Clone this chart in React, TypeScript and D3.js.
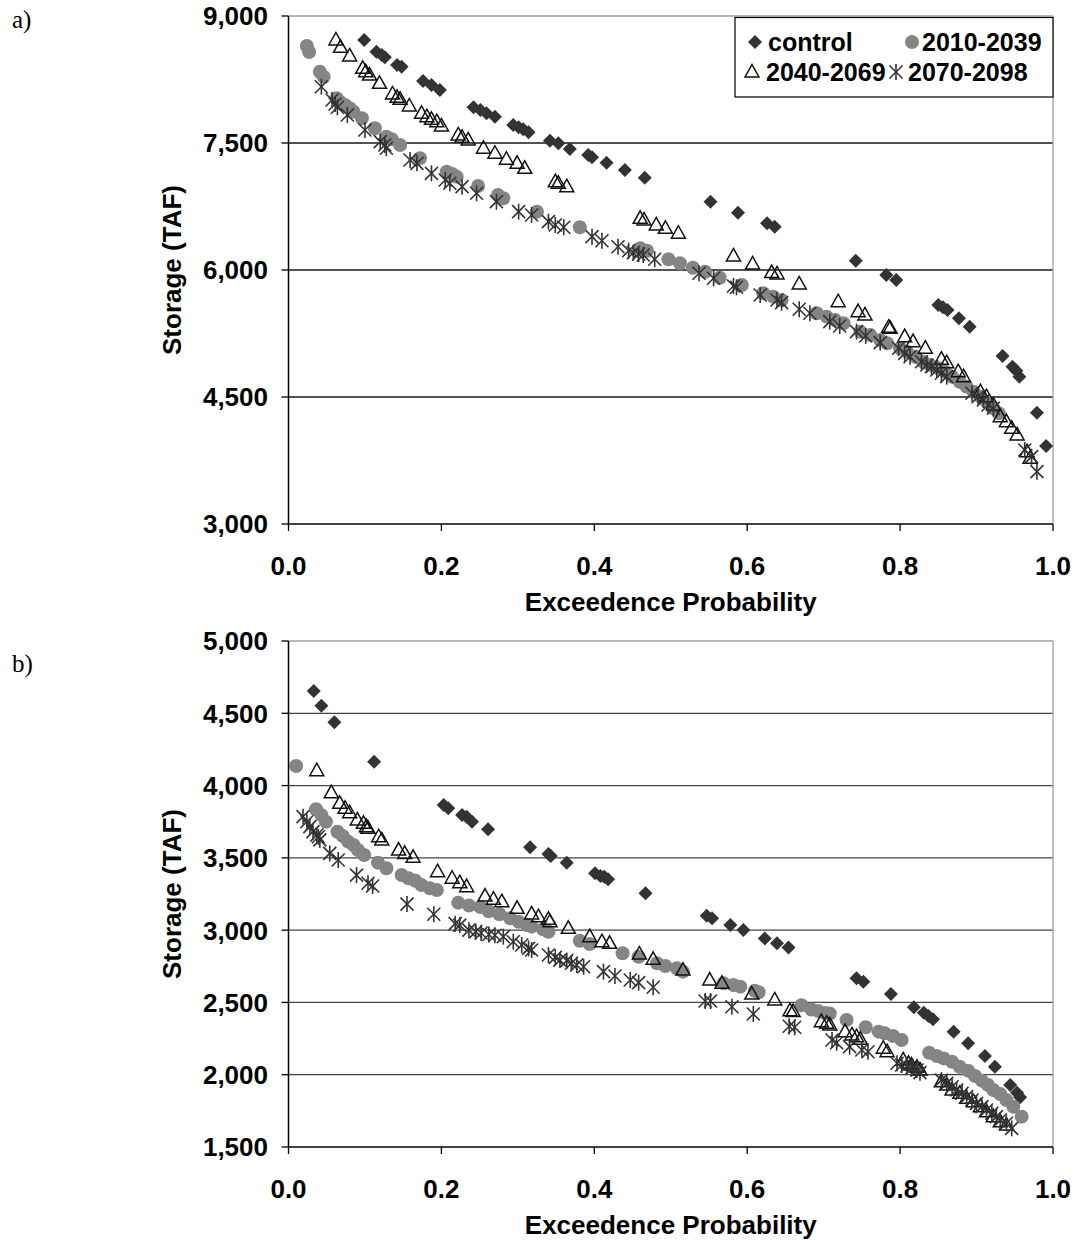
import React from 'react';
import * as d3 from 'd3';

type Pt = [number, number];

const seriesNames = ['control', '2010-2039', '2040-2069', '2070-2098'];
const xTicks = [0, 0.2, 0.4, 0.6, 0.8, 1.0];
const aYTicks = [3000, 4500, 6000, 7500, 9000];
const bYTicks = [1500, 2000, 2500, 3000, 3500, 4000, 4500, 5000];

const aControl: Pt[] = [[0.099,8717],[0.115,8578],[0.122,8539],[0.126,8512],[0.142,8421],[0.148,8401],[0.176,8232],[0.187,8185],[0.198,8126],[0.242,7922],[0.251,7890],[0.259,7851],[0.270,7811],[0.294,7713],[0.301,7686],[0.307,7662],[0.314,7627],[0.342,7527],[0.353,7497],[0.368,7429],[0.392,7358],[0.397,7331],[0.416,7267],[0.440,7181],[0.466,7090],[0.552,6807],[0.588,6677],[0.626,6552],[0.636,6512],[0.742,6110],[0.782,5941],[0.795,5882],[0.850,5587],[0.856,5560],[0.862,5528],[0.877,5430],[0.891,5331],[0.934,4985],[0.947,4858],[0.952,4811],[0.956,4740],[0.979,4315],[0.991,3922]];

const a2010: Pt[] = [[0.024,8646],[0.027,8575],[0.041,8342],[0.046,8283],[0.063,8028],[0.067,7988],[0.074,7949],[0.080,7910],[0.085,7870],[0.096,7792],[0.113,7674],[0.128,7575],[0.135,7544],[0.146,7477],[0.172,7319],[0.207,7161],[0.214,7134],[0.220,7102],[0.248,6992],[0.274,6886],[0.281,6847],[0.325,6689],[0.381,6505],[0.460,6257],[0.469,6228],[0.497,6127],[0.512,6079],[0.529,6027],[0.545,5980],[0.564,5909],[0.593,5823],[0.621,5725],[0.634,5685],[0.645,5646],[0.691,5489],[0.704,5449],[0.715,5410],[0.726,5371],[0.748,5272],[0.761,5233],[0.774,5174],[0.783,5135],[0.800,5076],[0.809,5035],[0.820,4976],[0.830,4917],[0.839,4879],[0.850,4839],[0.859,4799],[0.868,4740],[0.878,4681],[0.887,4622],[0.896,4563],[0.905,4504],[0.913,4445],[0.922,4367],[0.929,4308]];

const a2040: Pt[] = [[0.062,8717],[0.068,8630],[0.080,8528],[0.097,8382],[0.101,8342],[0.106,8303],[0.119,8205],[0.136,8079],[0.142,8040],[0.146,8016],[0.158,7937],[0.174,7851],[0.181,7811],[0.187,7780],[0.194,7752],[0.200,7701],[0.222,7595],[0.227,7567],[0.235,7536],[0.255,7438],[0.270,7379],[0.285,7308],[0.299,7260],[0.309,7201],[0.349,7043],[0.353,7024],[0.364,6984],[0.460,6611],[0.465,6591],[0.481,6532],[0.493,6493],[0.510,6434],[0.582,6166],[0.607,6071],[0.632,5969],[0.639,5953],[0.668,5835],[0.719,5626],[0.745,5508],[0.754,5469],[0.785,5324],[0.787,5312],[0.806,5213],[0.817,5154],[0.833,5076],[0.854,4946],[0.861,4906],[0.876,4799],[0.883,4740],[0.905,4563],[0.913,4504],[0.922,4406],[0.931,4268],[0.939,4209],[0.946,4131],[0.953,4052],[0.966,3854],[0.970,3776]];

const a2070: Pt[] = [[0.043,8165],[0.057,8008],[0.061,7961],[0.064,7922],[0.077,7831],[0.100,7654],[0.120,7516],[0.126,7477],[0.128,7438],[0.159,7299],[0.168,7260],[0.187,7142],[0.205,7063],[0.211,7024],[0.227,6984],[0.246,6906],[0.272,6807],[0.301,6689],[0.318,6650],[0.340,6571],[0.349,6532],[0.360,6505],[0.397,6394],[0.410,6346],[0.431,6275],[0.445,6228],[0.451,6205],[0.458,6189],[0.464,6177],[0.479,6127],[0.537,5961],[0.556,5902],[0.582,5811],[0.586,5796],[0.617,5705],[0.639,5646],[0.645,5614],[0.668,5536],[0.682,5489],[0.708,5390],[0.721,5339],[0.743,5272],[0.755,5221],[0.774,5142],[0.798,5076],[0.806,5016],[0.813,4976],[0.828,4917],[0.835,4878],[0.841,4858],[0.848,4819],[0.854,4780],[0.861,4740],[0.894,4544],[0.902,4504],[0.909,4465],[0.915,4406],[0.922,4367],[0.963,3874],[0.972,3795],[0.979,3618]];

const bControl: Pt[] = [[0.033,4654],[0.043,4552],[0.060,4438],[0.112,4165],[0.203,3866],[0.209,3843],[0.227,3796],[0.233,3785],[0.240,3750],[0.261,3698],[0.316,3573],[0.340,3527],[0.343,3513],[0.364,3467],[0.401,3393],[0.408,3375],[0.413,3370],[0.418,3352],[0.467,3255],[0.547,3100],[0.554,3082],[0.578,3036],[0.595,3001],[0.623,2943],[0.639,2909],[0.654,2880],[0.743,2667],[0.752,2643],[0.788,2558],[0.818,2466],[0.831,2429],[0.837,2406],[0.843,2383],[0.870,2298],[0.889,2217],[0.911,2129],[0.924,2055],[0.944,1929],[0.953,1876],[0.957,1844]];

const b2010: Pt[] = [[0.010,4135],[0.036,3836],[0.043,3796],[0.049,3750],[0.064,3681],[0.071,3651],[0.078,3612],[0.085,3589],[0.091,3554],[0.099,3520],[0.117,3467],[0.128,3428],[0.148,3381],[0.157,3359],[0.166,3342],[0.174,3312],[0.185,3289],[0.194,3278],[0.222,3190],[0.236,3170],[0.251,3160],[0.262,3130],[0.276,3110],[0.290,3082],[0.301,3058],[0.312,3036],[0.318,3024],[0.333,3006],[0.340,2989],[0.381,2927],[0.394,2904],[0.437,2840],[0.458,2816],[0.482,2771],[0.493,2752],[0.508,2736],[0.516,2713],[0.569,2632],[0.582,2621],[0.591,2609],[0.610,2581],[0.615,2570],[0.671,2480],[0.684,2451],[0.693,2441],[0.702,2427],[0.708,2423],[0.730,2378],[0.755,2328],[0.772,2298],[0.780,2286],[0.791,2268],[0.802,2240],[0.838,2152],[0.848,2129],[0.857,2113],[0.868,2090],[0.878,2055],[0.889,2028],[0.898,1991],[0.907,1959],[0.915,1929],[0.922,1894],[0.931,1867],[0.939,1825],[0.948,1779],[0.959,1710]];

const b2040: Pt[] = [[0.037,4103],[0.056,3951],[0.067,3877],[0.074,3843],[0.080,3812],[0.090,3762],[0.098,3739],[0.102,3716],[0.104,3704],[0.118,3646],[0.122,3624],[0.144,3554],[0.152,3531],[0.163,3504],[0.195,3404],[0.214,3359],[0.224,3328],[0.233,3301],[0.257,3236],[0.268,3214],[0.279,3197],[0.299,3151],[0.318,3112],[0.327,3093],[0.340,3075],[0.342,3058],[0.366,3013],[0.394,2955],[0.410,2920],[0.420,2909],[0.459,2835],[0.477,2798],[0.516,2724],[0.551,2655],[0.567,2632],[0.606,2558],[0.636,2517],[0.656,2443],[0.660,2437],[0.697,2367],[0.704,2356],[0.708,2344],[0.728,2298],[0.737,2275],[0.743,2263],[0.748,2245],[0.778,2183],[0.783,2159],[0.804,2102],[0.811,2079],[0.815,2067],[0.822,2051],[0.826,2033],[0.854,1952],[0.861,1929],[0.868,1894],[0.878,1871],[0.887,1837],[0.896,1813],[0.905,1779],[0.913,1744],[0.922,1710],[0.931,1675],[0.939,1652]];

const b2070: Pt[] = [[0.019,3785],[0.024,3750],[0.028,3716],[0.032,3681],[0.037,3658],[0.039,3646],[0.041,3624],[0.054,3531],[0.065,3485],[0.089,3381],[0.104,3324],[0.110,3305],[0.155,3180],[0.190,3110],[0.218,3045],[0.224,3035],[0.236,3000],[0.245,2990],[0.252,2980],[0.262,2970],[0.270,2965],[0.281,2955],[0.294,2920],[0.305,2897],[0.314,2874],[0.318,2863],[0.340,2828],[0.349,2812],[0.355,2793],[0.364,2789],[0.370,2771],[0.377,2759],[0.386,2747],[0.412,2713],[0.427,2683],[0.447,2655],[0.458,2637],[0.477,2605],[0.545,2510],[0.552,2510],[0.580,2470],[0.608,2420],[0.655,2335],[0.662,2328],[0.711,2240],[0.717,2221],[0.734,2194],[0.750,2171],[0.758,2159],[0.796,2079],[0.802,2067],[0.809,2060],[0.815,2044],[0.822,2033],[0.826,2014],[0.854,1963],[0.861,1940],[0.868,1917],[0.874,1894],[0.881,1871],[0.887,1848],[0.894,1825],[0.900,1802],[0.907,1779],[0.913,1756],[0.920,1733],[0.926,1710],[0.931,1687],[0.939,1664],[0.946,1629]];

const FONT = "'Liberation Sans', Arial, sans-serif";
const LEFT = 288.5;
const RIGHT = 1053;

function Marker({ kind, x, y }: { kind: number; x: number; y: number }) {
  if (kind === 0) {
    return <path d={`M${x},${y - 7}L${x + 7},${y}L${x},${y + 7}L${x - 7},${y}Z`} fill="#333333" />;
  }
  if (kind === 1) {
    return <circle cx={x} cy={y} r={7} fill="#858585" />;
  }
  if (kind === 2) {
    return (
      <path d={`M${x},${y - 7.5}L${x + 7},${y + 5}L${x - 7},${y + 5}Z`} fill="none" stroke="#111" strokeWidth={1.5} />
    );
  }
  return (
    <g stroke="#333" strokeWidth={1.6}>
      <line x1={x - 6.5} y1={y - 6.5} x2={x + 6.5} y2={y + 6.5} />
      <line x1={x - 6.5} y1={y + 6.5} x2={x + 6.5} y2={y - 6.5} />
      <line x1={x} y1={y - 8} x2={x} y2={y + 8} />
    </g>
  );
}

function Panel({ top, bottom, yTicks, series, label, labelY, legend, gridColor }: {
  top: number; bottom: number; yTicks: number[]; series: Pt[][]; label: string; labelY: number; legend: boolean; gridColor: string;
}) {
  const x = d3.scaleLinear().domain([0, 1]).range([LEFT, RIGHT]);
  const y = d3.scaleLinear().domain([yTicks[0], yTicks[yTicks.length - 1]]).range([bottom, top]);
  const fmtY = d3.format(',');
  const fmtX = d3.format('.1f');
  return (
    <g>
      <text x={12} y={labelY} fontFamily="'Liberation Serif', 'Times New Roman', serif" fontSize={25}>{label}</text>
      {yTicks.slice(1, -1).map((t) => (
        <line key={'g' + t} x1={LEFT} x2={RIGHT} y1={y(t)} y2={y(t)} stroke={gridColor} strokeWidth={1.3} />
      ))}
      <line x1={LEFT} x2={RIGHT} y1={top} y2={top} stroke="#a0a0a0" strokeWidth={1.3} />
      <line x1={RIGHT} x2={RIGHT} y1={top} y2={bottom} stroke="#a0a0a0" strokeWidth={1.3} />
      {series.map((s, i) => (
        <g key={'s' + i}>
          {s.map((d, j) => <Marker key={j} kind={i} x={x(d[0])} y={y(d[1])} />)}
        </g>
      ))}
      <line x1={LEFT} x2={LEFT} y1={top} y2={bottom} stroke="#000" strokeWidth={1.5} />
      <line x1={LEFT} x2={RIGHT} y1={bottom} y2={bottom} stroke="#000" strokeWidth={1.5} />
      {yTicks.map((t) => (
        <g key={'yt' + t}>
          <line x1={LEFT - 7} x2={LEFT} y1={y(t)} y2={y(t)} stroke="#000" strokeWidth={1.3} />
          <text x={268} y={y(t)} dy="0.36em" textAnchor="end" fontFamily={FONT} fontWeight="bold" fontSize={26}>{fmtY(t)}</text>
        </g>
      ))}
      {xTicks.map((t) => (
        <g key={'xt' + t}>
          <line x1={x(t)} x2={x(t)} y1={bottom} y2={bottom + 7} stroke="#000" strokeWidth={1.3} />
          <text x={x(t)} y={bottom + 51} textAnchor="middle" fontFamily={FONT} fontWeight="bold" fontSize={26}>{fmtX(t)}</text>
        </g>
      ))}
      <text x={(LEFT + RIGHT) / 2} y={bottom + 87} textAnchor="middle" fontFamily={FONT} fontWeight="bold" fontSize={26}>Exceedence Probability</text>
      <text transform={`translate(181,${(top + bottom) / 2}) rotate(-90)`} textAnchor="middle" fontFamily={FONT} fontWeight="bold" fontSize={26}>Storage (TAF)</text>
      {legend && (
        <g>
          <rect x={735} y={17.5} width={RIGHT - 735} height={79.5} fill="#fff" stroke="#000" strokeWidth={1.2} />
          {[
            { mx: 755, tx: 768, yy: 42 },
            { mx: 912, tx: 922, yy: 42 },
            { mx: 752, tx: 766, yy: 72 },
            { mx: 896, tx: 908, yy: 72 },
          ].map((p, i) => (
            <g key={'l' + i}>
              <Marker kind={i} x={p.mx} y={p.yy} />
              <text x={p.tx} y={p.yy} dy="0.36em" fontFamily={FONT} fontWeight="bold" fontSize={25}>{seriesNames[i]}</text>
            </g>
          ))}
        </g>
      )}
    </g>
  );
}

export default function App() {
  return (
    <svg width={1078} height={1240} style={{ position: 'absolute', left: 0, top: 0, background: '#fff' }}>
      <rect width={1078} height={1240} fill="#fff" />
      <Panel top={16} bottom={524} yTicks={aYTicks} series={[aControl, a2010, a2040, a2070]} label="a)" labelY={28} legend={true} gridColor="#1a1a1a" />
      <Panel top={641} bottom={1147} yTicks={bYTicks} series={[bControl, b2010, b2040, b2070]} label="b)" labelY={672} legend={false} gridColor="#444" />
    </svg>
  );
}
